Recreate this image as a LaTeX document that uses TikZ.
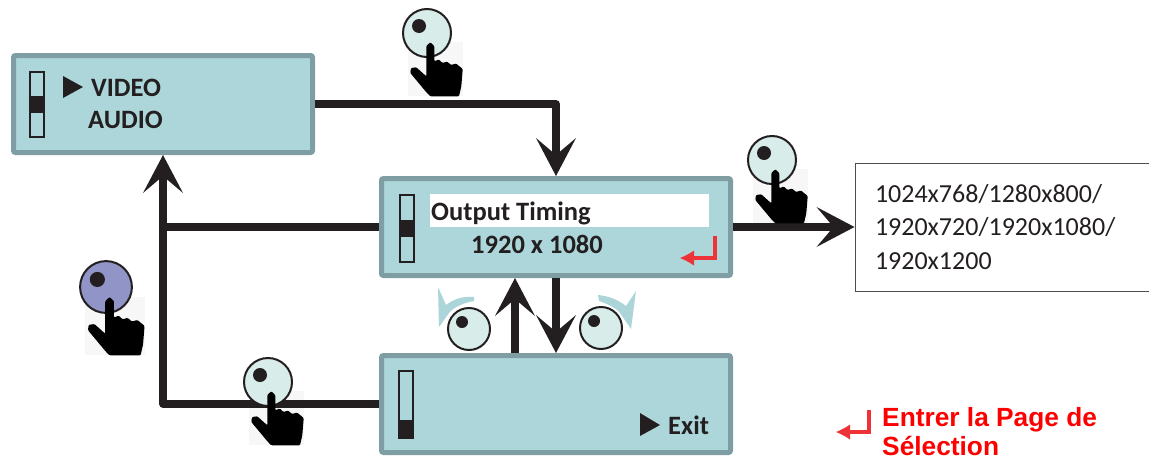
\documentclass[tikz,border=0pt]{standalone}
\usepackage{fontspec}
\setmainfont{Carlito}
\newfontfamily\legendfont{Liberation Sans}
\usetikzlibrary{arrows.meta,calc}
\definecolor{panelfill}{HTML}{ACD6DA}
\definecolor{panelborder}{HTML}{7F9EA3}
\definecolor{ink}{HTML}{231F20}
\definecolor{knoblight}{HTML}{D8ECEA}
\definecolor{knobpurple}{HTML}{9194C6}
\definecolor{swoosh}{HTML}{ABD5D9}
\definecolor{legendred}{HTML}{FF0000}
\definecolor{returnred}{HTML}{EE3338}
\tikzset{
  panel/.style={draw=panelborder,fill=panelfill,line width=5pt,rounded corners=2pt,inner sep=0pt},
  label/.style={anchor=base west,inner sep=0pt,text=ink,font=\fontsize{26.5}{26.5}\selectfont\bfseries},
  legendlabel/.style={anchor=base west,inner sep=0pt,text=legendred,font=\legendfont\fontsize{26.3}{26.3}\selectfont\bfseries},
  flow/.style={draw=ink,line width=7.5pt,line join=round},
  head/.style={-{Stealth[length=38pt,width=40pt,inset=17pt,line width=0pt]}},
  slider/.style={draw=ink,line width=2.2pt,fill=none},
  knob/.style={circle,draw=ink,line width=2pt,fill=knoblight,inner sep=0pt,minimum size=#1},
  swooshshape/.style={fill=swoosh,draw=none},
  redarrow/.style={draw=returnred,line width=3.8pt,-{Latex[length=14pt,width=15pt,line width=0pt]}},
}
\newcommand{\patchat}[3]{\fill[black!3,shift={(#1,#2)},scale=#3] (-19,9) rectangle (36,63);}
\newcommand{\handat}[5]{%
  \node[knob=#5*48pt,fill=#4] (#1) at (#2,#3) {};
  \begin{scope}[shift={(#2,#3)},scale=#5]
    \fill[ink] (-8,-7) circle (7);
    \fill[black,rounded corners=1pt] (-0.7,13) -- (3.3,9.3) -- (7.3,13) -- (7.3,28.3) -- (11.7,26.5)
      -- (15.5,30) -- (20,28.5) -- (24,32) -- (29,30.5) -- (35.7,36) -- (34.3,53.3)
      -- (32,63.3) -- (3.3,63.3) -- (0,60) -- (-16.7,40) -- (-16,35) -- (-10.7,34.3) -- (-0.7,43.3) -- cycle;
  \end{scope}}
\begin{document}
\begin{tikzpicture}[x=1pt,y=-1pt]
\useasboundingbox (0,0) rectangle (1149,461);
% pale squares behind the hands
\patchat{427}{33}{1}
\patchat{772}{160}{1}
\patchat{106}{287}{1.08}
\patchat{268}{382}{1}

% panels
\node[panel,minimum width=299pt,minimum height=97pt] (video) at (163,104) {};
\node[panel,minimum width=349pt,minimum height=97pt] (timing) at (556,227) {};
\node[panel,minimum width=349pt,minimum height=97pt] (exit) at (556,404) {};
\node[draw=ink!80,line width=1pt,fill=white,minimum width=294pt,minimum height=128pt,
      inner xsep=20pt,inner ysep=0pt,text width=254pt,align=left,text=ink,
      font=\fontsize{26}{33.5}\selectfont] (list) at (1002,227)
  {1024x768/1280x800/\\1920x720/1920x1080/\\1920x1200};

% connectors
\coordinate (leftrail) at (162,300);
\coordinate (uprail) at (515,300);
\draw[flow,head] (video.east) -| (timing.north);
\draw[flow,head] (timing.east) -- (list.west);
\draw[flow,head] (exit.west) -| (video.south);
\draw[flow] (timing.west) -- (timing.west -| leftrail);
\draw[flow,head] (exit.north -| uprail) -- (timing.south -| uprail);
\draw[flow,head] (timing.south) -- (exit.north);

% highlight bar
\fill[white] (430,194) rectangle (709,227);

% sliders
\draw[slider] (30,72) rectangle (44,137);
\fill[ink] (30,96) rectangle (44,113);
\draw[slider] (400,195) rectangle (414,262);
\fill[ink] (400,220) rectangle (414,237);
\draw[slider] (399,371) rectangle (413,438);
\fill[ink] (399,420) rectangle (413,438);

% menu pointers
\fill[ink] (63,76) -- (83,87) -- (63,98) -- cycle;
\fill[ink] (640,413) -- (660,425) -- (640,436) -- cycle;

% panel texts
\node[label] (tvideo) at (91,96) {VIDEO};
\node[label] (taudio) at (88,128) {AUDIO};
\node[label] (toutput) at (431,220) {Output Timing};
\node[label] (tres) at (471,253) {1920 x 1080};
\node[label] (texit) at (668,434) {Exit};

% red return marks
\coordinate (ra) at (715,236);
\coordinate (rb) at (680,258);
\draw[redarrow] (ra) |- (rb);
\coordinate (la) at (869,410);
\coordinate (lb) at (836,432);
\draw[redarrow] (la) |- (lb);

% turn swooshes
\fill[swooshshape] (438,287) -- (446,305) .. controls (455,298) and (465,296) .. (474,297)
  -- (474,301) .. controls (463,303) and (454,307) .. (449,313) -- (439,327) -- cycle;
\fill[swooshshape] (636,291) -- (626,306) .. controls (617,299) and (608,296) .. (598,295)
  -- (599,301) .. controls (608,304) and (616,308) .. (620,313) -- (631,329) -- cycle;

% small knobs
\node[knob=42pt] (kleft) at (469,329) {};
\fill[ink] (462,322) circle (6);
\node[knob=42pt] (kright) at (601,328) {};
\fill[ink] (594,321) circle (6);

% hands
\handat{hone}{427}{33}{knoblight}{1}
\handat{htwo}{772}{160}{knoblight}{1}
\handat{hthree}{106}{287}{knobpurple}{1.08}
\handat{hfour}{268}{382}{knoblight}{1}

% legend
\node[legendlabel] (lgone) at (882,426) {Entrer la Page de};
\node[legendlabel] (lgtwo) at (882,455) {Sélection};
\end{tikzpicture}
\end{document}
